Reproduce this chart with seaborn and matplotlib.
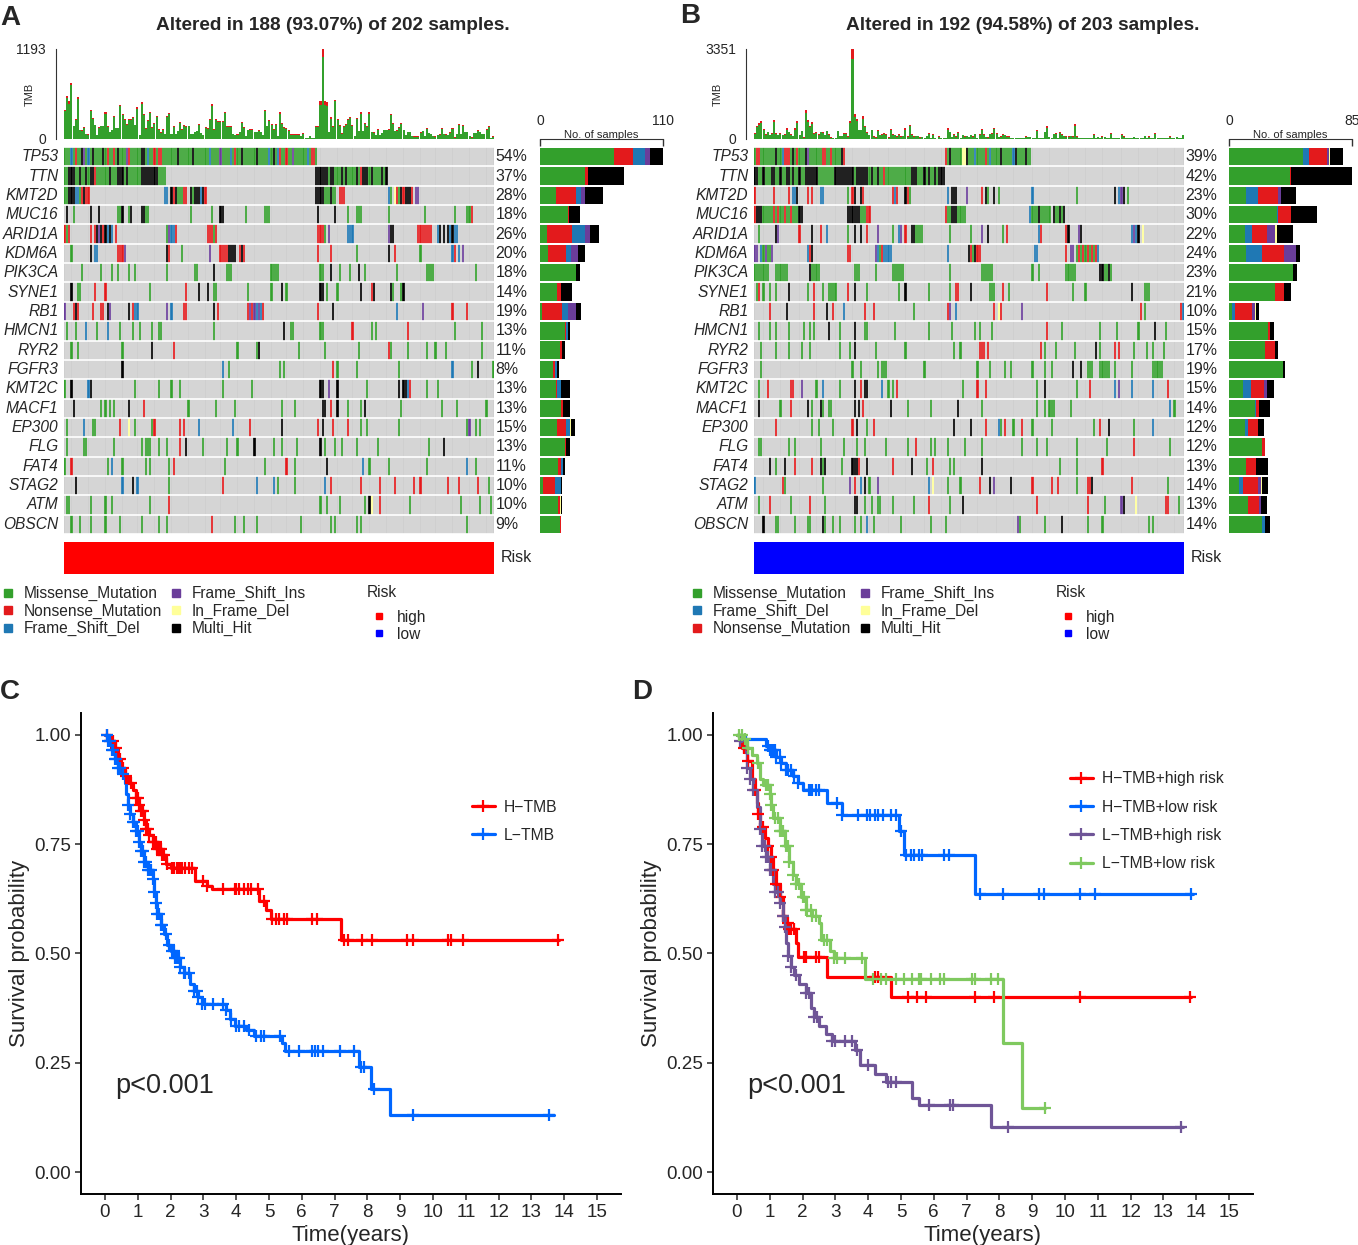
import re

import matplotlib
import matplotlib.pyplot as plt
import numpy as np
import pandas as pd
import seaborn as sns
from matplotlib.colors import ListedColormap
from matplotlib.lines import Line2D

matplotlib.use("Agg")

W, H = 1358, 1245

GENES_A = ["TP53", "TTN", "KMT2D", "MUC16", "ARID1A", "KDM6A", "PIK3CA", "SYNE1", "RB1", "HMCN1",
           "RYR2", "FGFR3", "KMT2C", "MACF1", "EP300", "FLG", "FAT4", "STAG2", "ATM", "OBSCN"]
GENES_B = GENES_A
PCT_A = [54, 37, 28, 18, 26, 20, 18, 14, 19, 13, 11, 8, 13, 13, 15, 13, 11, 10, 10, 9]
PCT_B = [39, 42, 23, 30, 22, 24, 23, 21, 10, 15, 17, 19, 15, 14, 12, 12, 13, 14, 13, 14]

# cell codes: M missense, N nonsense, F frameshift del, P frameshift ins, Y in-frame del, K multi hit
CODES = "MNFPYK"
COLORS = {"M": "#33A02C", "N": "#E31A1C", "F": "#1F78B4", "P": "#6A3D9A", "Y": "#FFFF99", "K": "#000000"}
GREY = "#CFCFCF"

# panel A, samples altered per gene (later entries overwrite earlier ones)
A_TP53 = "M:0-118 F:3,11,39,53,68,78,96,100,114 N:5,20,23,30,42,44,45,80,101,104,116,117 K:8,13,18,25,36,37,53,60,83,90,98 P:9,29,73,107"
A_TTN = "M:0-47,118-151 K:2-4,7,10,12,13,21,25-27,29,36-43,118-123,125,126,130,132,137,140-142,144,149,151 N:14,139"
A_KMT2D = "M:0-2,7,53-55,60,122-124,126,127,153,157 K:2-4,9,50-52,59,61-63,65,118-121,125,158-162 F:5,6,47,48,64,152 N:8,10,11,51,56,57,66,129-131,156,159,163 Y:155 P:165,166"
A_MUC16 = "M:4,25-27,30,36-39,59,69,85,94-96,133,137-139,152,169,183,189,190 K:1,12,16,27,31,36,37,73,74,119,127 N:191"
A_ARID1A = "N:0,2,12,14,18,24,52,67-69,71,119-121,166-172 M:1,48,122,70 K:15,17,19,21,153,154,176,178,180,182 P:16,49,124,152 F:20,22,50,51,133-135,175,181,183,184"
A_KDM6A = "M:3,55,137,167 K:12,48,77-80,83,152 F:14,15,182,185 N:25-27,49,73-76,82,84,119,125,155,183 P:28,68,187"
A_PIK3CA = "M:8,17,22,25,30,33,48,61,62,76-78,97-100,120,121,129,134,141,156,170-173,193 K:70,125,138"
A_SYNE1 = "K:3,63,67,102,120,121,139,145,153,159 M:6,7,40,70,71,86,97,104,123,128,154,158 N:14,19,57,144"
A_RB1 = "P:0,21,48,87,89,168,91 N:4,6,13,17,18,32,56,57,72,86,88,93,119,182,189 K:5,20,30,70,126 F:33,34,50,90,92,156"
A_HMCN1 = "M:1,5,15,26,32,35,41,44,45,70,106,107,120,121,144,146,183,196 F:10,20 K:103 N:135,161"
A_RYR2 = "M:3,6,27,81,90,110,122,138,153,161,170,174,179,196 K:41,91 N:51,152"
A_FGFR3 = "K:27,194 F:74,182 M:77,101,103,128,137,157,191,201 N:126"
A_KMT2C = "M:0,33,44,50,54,74,88,142,170,175 K:3,12,120,121,128,157,159,160 F:11,161 P:124 N:162"
A_MACF1 = "K:4,30,121,122,128,141 M:17,19,21,23,58,71,80,102,108,133,139,158,177,184,198 N:37,125"
A_EP300 = "M:1,13,14,33,41,139,142,157,189,193,195 F:9,63,79 N:26,42,54,56,87,119,126,133 Y:30 K:102,121 P:190"
A_FLG = "M:1,9,10,23,36,38-40,44,48,65,76,81,98,102,109,122,127,130,137,147,171 N:54 K:57,89,120,178"
A_FAT4 = "M:0,20,27,38,40,49,75,94,108,143,152,170,193 N:3,51,104 F:22,140,189 K:123"
A_STAG2 = "K:5,32 F:27,34,90,98,122 M:49,100,108,199 N:74,125,139,148,155,164,167,180,185,194"
A_ATM = "M:1,2,12,19,22,40,120,123,129,141,162,186,195,200 N:49,148 K:143 Y:144"
A_OBSCN = "M:3,7,12,19,26,36,44,48,80,84,90,111,125,127,137,139,189 N:69"

# panel B
B_TP53 = "M:0-42,90-130 N:1,2,14-16,20,32,33,36,42,90,109 K:10,18,24,41,92,100,116,123,128 F:13,104,111,122 P:25 Y:98,99"
B_TTN = "M:0-89 K:0,1,4,8,9,12,15,16,18,21,24-29,38-40,41-46,48,49,50-53,55,58,74-76,80,82,85,87-89 N:61"
B_KMT2D = "N:0,9,16,25,27,46,51,65,67,72,107 F:18,19,31,32,66,91,131,172 K:20,47,50,71,93-95,109,113,170,174 M:44,73,110,115,152,176 P:100,173"
B_MUC16 = "M:4-8,10,12,13,15,16,18-20,50-52,91,92,96-99,131-133,135-139,142,143,145 N:0,9,11,14,17,53,54,90 K:1-3,21,22,44-49,93-95,134,141,144,146 F:130"
B_ARID1A = "M:2,44,65,76-79,92,102,117 K:10,11,27,47,50,74,75,110,148,154,181 P:11,58,69,107,153,179 N:21,31,53,71,119,135,147 F:34,68,134,178,180 Y:183"
B_KDM6A = "P:0,1,5,8,57,149,150 F:3,25,58,61-64,91,132,133,162 M:4,6,7,59,103,152,154,156,158,160 N:26,44,45,60,102,105,106,147,153,155,157,159,161 K:27,101,104"
B_PIK3CA = "M:0-6,10-15,27-30,47-49,57,65-70,92,107-112,131,134,147-151,165,166,168 K:26,163,164,167"
B_SYNE1 = "M:1,4,7,10,25,32,35-38,53,68,82,92,111-113,120,150,156,184-186 N:2,28,44,95,96,117,138 K:16,47,71,102,178"
B_RB1 = "N:7,28,37,52,56,91,113,116,182,201 K:15,34 F:42,95,202 M:75,184 P:92,126 Y:115"
B_HMCN1 = "M:2,7,10,16,23,26,28,40,52,53,66,82,93,104,106,112,145,163,171,181,194 K:35,47,189 N:138"
B_RYR2 = "M:3,10,16,22,26,40,45,57,71,94,97,137,142,151,163,179,185,188,193 K:47,161 N:106-108,110,135,170,172"
B_FGFR3 = "M:3,46,50,58,60-62,80,105,111,118,121,131,137,140,157-159,163-167,170,178,188-192 K:150,154"
B_KMT2C = "M:2,29,40,63,65,98,133,152 N:6,17,18,50,67,105,109,158,195 P:22,172 F:32,60,170,178,188 K:47,52,53,137"
B_MACF1 = "K:2,25,31,47,49,64,96 M:12,27,32,35,36,72,83,107,133,137,139-141,149,198 N:17,51 F:196"
B_EP300 = "N:10,46,56,109,118,126,163 M:27,30,37,53,116,122,131,140,160,179 K:48,94,102,167 F:115,188"
B_FLG = "M:2,3,16,19,31,42,48,52,62,72,83,85,91,99,107,126,133,138,152,166,196 N:76,179"
B_FAT4 = "K:7,14,31,33,46-48,53,74,107 M:10,32,41,81,92,94,144,152 N:19,27,49,65,84,164"
B_STAG2 = "F:0,50,82 N:13,47,106,131,140,143,157,158,178 M:14,32,54,91,97,152,195 P:45,58,113 K:52,111,121,159 Y:84"
B_ATM = "M:2,17,33,52,55,58,59,65,75,92,165,200 N:7,26,82,133,157,194,195 K:47,48,98,174 P:173 Y:180"
B_OBSCN = "K:4,32,145 M:10,11,19,25,26,33,37,40,47,50,56,69,83,90,125,137,157,164,186,188 F:53 P:124"

A_ROWS = [A_TP53, A_TTN, A_KMT2D, A_MUC16, A_ARID1A, A_KDM6A, A_PIK3CA, A_SYNE1, A_RB1, A_HMCN1,
          A_RYR2, A_FGFR3, A_KMT2C, A_MACF1, A_EP300, A_FLG, A_FAT4, A_STAG2, A_ATM, A_OBSCN]
B_ROWS = [B_TP53, B_TTN, B_KMT2D, B_MUC16, B_ARID1A, B_KDM6A, B_PIK3CA, B_SYNE1, B_RB1, B_HMCN1,
          B_RYR2, B_FGFR3, B_KMT2C, B_MACF1, B_EP300, B_FLG, B_FAT4, B_STAG2, B_ATM, B_OBSCN]

# TMB per sample, whole bar and the red tip on top of it
A_TMB = [389, 575, 499, 743, 177, 270, 553, 124, 115, 159,
         71, 62, 389, 278, 190, 57, 159, 177, 177, 354,
         168, 97, 124, 309, 150, 150, 455, 332, 265, 199,
         265, 265, 296, 190, 420, 53, 486, 332, 141, 256,
         362, 155, 212, 301, 133, 88, 133, 66, 309, 345,
         66, 168, 66, 110, 221, 133, 186, 168, 177, 66,
         66, 97, 110, 203, 80, 53, 159, 146, 265, 464,
         133, 265, 243, 243, 243, 362, 168, 168, 168, 71,
         53, 62, 97, 221, 155, 44, 124, 133, 133, 97,
         97, 119, 97, 53, 389, 177, 248, 203, 133,
         199, 44, 354, 212, 155, 141, 119, 62, 62, 62,
         66, 62, 44, 80, 18, 13, 40, 13, 13, 177,
         177, 499, 1193, 499, 486, 97, 287, 168, 522, 265,
         186, 80, 177, 199, 265, 296, 186, 44, 278, 110,
         354, 110, 212, 177, 354, 97, 88, 53, 133, 53,
         80, 124, 124, 133, 336, 212, 110, 119, 155, 212,
         124, 53, 97, 97, 44, 35, 35, 35, 88, 110,
         44, 141, 80, 66, 44, 35, 53, 62, 141, 66,
         62, 53, 88, 141, 22, 66, 203, 66, 190, 97,
         97, 44, 22, 80, 80, 115, 97, 66, 66, 133,
         168, 9, 35]
A_TIP = [22, 28, 30, 32, 8, 12, 28, 8, 8, 10,
         6, 6, 22, 14, 10, 4, 10, 10, 10, 20,
         10, 6, 8, 16, 10, 10, 24, 16, 14, 10,
         14, 14, 16, 10, 22, 4, 24, 16, 8, 14,
         18, 10, 12, 16, 8, 6, 8, 5, 18, 18,
         5, 10, 5, 8, 12, 8, 10, 10, 10, 5,
         5, 6, 8, 12, 6, 4, 10, 8, 14, 24,
         8, 14, 14, 14, 14, 18, 10, 10, 10, 6,
         4, 5, 6, 12, 10, 4, 8, 8, 8, 6,
         6, 8, 6, 4, 20, 10, 14, 12, 8,
         18, 8, 25, 14, 12, 12, 10, 8, 8, 8,
         8, 8, 6, 8, 4, 3, 6, 3, 3, 14,
         14, 50, 110, 50, 45, 8, 20, 12, 22, 16,
         12, 8, 12, 14, 16, 20, 12, 6, 18, 8,
         20, 8, 14, 12, 22, 8, 8, 6, 8, 6,
         6, 8, 8, 8, 20, 14, 8, 8, 10, 14,
         8, 6, 6, 6, 6, 4, 4, 4, 6, 8,
         6, 8, 6, 6, 4, 4, 4, 6, 8, 6,
         6, 4, 6, 8, 4, 6, 14, 6, 12, 6,
         6, 4, 4, 6, 6, 8, 6, 4, 4, 8,
         12, 2, 6]
B_TMB = [211, 496, 583, 657, 372, 186, 273, 161, 223, 707,
         223, 149, 223, 149, 186, 397, 273, 186, 124, 397,
         682, 149, 310, 62, 1091, 719, 496, 620, 223, 248,
         186, 273, 248, 149, 310, 186, 62, 37, 37, 310,
         124, 124, 223, 223, 99, 682, 3351, 930, 744, 347,
         347, 868, 496, 248, 149, 347, 99, 62, 322, 149,
         186, 223, 186, 62, 372, 186, 149, 99, 174, 99,
         124, 397, 99, 521, 174, 99, 124, 124, 62, 74,
         50, 124, 223, 50, 174, 25, 12, 99, 25, 25,
         50, 397, 273, 74, 174, 99, 248, 50, 149, 99,
         124, 74, 149, 99, 198, 50, 174, 372, 174, 74,
         62, 198, 223, 422, 223, 74, 99, 174, 149, 99,
         99, 50, 50, 25, 25, 37, 25, 50, 99, 74,
         74, 50, 50, 347, 50, 37, 37, 273, 471, 74,
         50, 198, 223, 37, 248, 174, 124, 99, 99, 124,
         99, 546, 99, 50, 25, 37, 50, 37, 37, 25,
         174, 50, 74, 50, 99, 74, 50, 50, 223, 50,
         50, 50, 50, 174, 99, 50, 50, 50, 37, 74,
         50, 50, 50, 50, 124, 50, 99, 50, 50, 223,
         37, 37, 25, 50, 50, 25, 99, 50, 50, 74,
         50, 50, 149]
B_TIP = [25, 60, 70, 70, 30, 20, 25, 15, 20, 85,
         25, 15, 20, 15, 20, 45, 25, 20, 15, 45,
         70, 15, 30, 8, 110, 70, 55, 70, 25, 25,
         20, 25, 25, 15, 30, 20, 8, 5, 5, 30,
         15, 15, 25, 25, 12, 70, 372, 110, 85, 30,
         30, 110, 45, 25, 15, 30, 12, 8, 30, 15,
         20, 25, 20, 8, 40, 20, 15, 12, 20, 12,
         15, 45, 12, 50, 20, 12, 15, 15, 8, 8,
         6, 15, 25, 6, 20, 3, 2, 12, 3, 3,
         6, 45, 30, 10, 20, 12, 30, 6, 15, 12,
         12, 8, 15, 10, 20, 6, 20, 40, 20, 8,
         8, 20, 25, 45, 25, 10, 12, 20, 15, 10,
         10, 6, 6, 3, 3, 5, 3, 6, 10, 8,
         8, 6, 6, 40, 6, 5, 5, 30, 55, 8,
         6, 20, 25, 5, 30, 20, 15, 12, 12, 15,
         10, 60, 10, 6, 3, 5, 6, 5, 5, 3,
         20, 6, 8, 6, 10, 8, 6, 6, 25, 6,
         6, 6, 6, 20, 10, 6, 6, 6, 5, 8,
         6, 6, 6, 6, 12, 6, 10, 6, 6, 25,
         5, 5, 3, 6, 6, 3, 10, 6, 6, 8,
         6, 6, 18]

# samples per gene and mutation type, for the side bars
A_SIDE_ORDER = "MNFPYK"
A_M = [66, 40, 14, 25, 6, 7, 32, 15, 2, 22, 18, 12, 14, 19, 15, 22, 16, 3, 16, 18]
A_N = [17, 3, 18, 1, 23, 16, 0, 4, 18, 1, 2, 1, 1, 2, 8, 1, 3, 10, 2, 1]
A_F = [11, 0, 5, 0, 11, 5, 0, 0, 5, 2, 0, 2, 4, 0, 4, 0, 2, 6, 0, 0]
A_P = [4, 0, 3, 0, 5, 6, 0, 0, 7, 0, 0, 0, 0, 0, 0, 0, 0, 0, 0, 0]
A_Y = [0, 0, 0, 0, 0, 0, 0, 0, 0, 0, 0, 0, 0, 0, 1, 0, 0, 0, 1, 0]
A_K = [12, 32, 16, 10, 8, 6, 4, 10, 5, 2, 2, 2, 8, 6, 3, 4, 1, 1, 1, 0]
B_SIDE_ORDER = "MFNPYK"
B_M = [51, 42, 12, 33, 11, 12, 44, 32, 2, 27, 25, 37, 10, 18, 11, 23, 12, 7, 13, 23]
B_F = [4, 0, 8, 1, 5, 11, 0, 0, 2, 0, 0, 0, 5, 1, 2, 0, 0, 3, 0, 2]
B_N = [13, 1, 14, 9, 10, 15, 0, 6, 12, 1, 7, 0, 9, 2, 7, 2, 7, 10, 8, 0]
B_P = [1, 0, 2, 0, 6, 8, 0, 0, 2, 0, 0, 0, 2, 0, 0, 0, 0, 2, 1, 0]
B_Y = [1, 0, 0, 0, 1, 0, 0, 0, 1, 0, 0, 0, 0, 0, 0, 0, 0, 1, 0, 0]
B_K = [9, 42, 10, 18, 11, 3, 3, 5, 2, 3, 2, 2, 5, 7, 4, 0, 8, 4, 4, 3]

# survival curves, step times and survival, plus censoring times
C_H_T = [0, 0.15, 0.3, 0.4, 0.5, 0.6, 0.7, 0.85, 0.95, 1.05, 1.1, 1.2, 1.25, 1.35, 1.45, 1.6, 1.75, 1.85, 2.0, 2.75, 3.1, 3.25, 4.7, 4.9, 5.05, 7.2, 13.85]
C_H_S = [1, 0.985, 0.97, 0.945, 0.925, 0.905, 0.89, 0.875, 0.855, 0.84, 0.825, 0.805, 0.785, 0.77, 0.755, 0.74, 0.725, 0.705, 0.695, 0.665, 0.655, 0.648, 0.62, 0.60, 0.578, 0.53, 0.53]
C_H_C = [0.05, 0.15, 0.25, 0.35, 0.45, 0.55, 0.65, 0.8, 0.95, 1.0, 1.05, 1.1, 1.15, 1.2, 1.25, 1.3, 1.35, 1.45, 1.5, 1.55, 1.6, 1.65, 1.7, 1.75, 1.8, 1.9, 2.05, 2.1, 2.2, 2.25, 2.3, 2.35, 2.45, 2.55, 2.65, 3.0, 3.1, 3.6, 3.95, 4.0, 4.1, 4.25, 4.35, 4.45, 4.65, 4.85, 5.1, 5.2, 5.3, 5.45, 5.55, 6.3, 6.45, 7.3, 7.4, 7.85, 8.15, 9.2, 9.4, 10.45, 10.55, 10.9, 13.8]
C_L_T = [0, 0.1, 0.2, 0.3, 0.4, 0.5, 0.6, 0.65, 0.7, 0.75, 0.85, 0.95, 1.05, 1.1, 1.2, 1.3, 1.45, 1.5, 1.55, 1.6, 1.7, 1.8, 1.9, 2.0, 2.15, 2.3, 2.4, 2.6, 2.7, 2.85, 2.95, 3.7, 3.8, 3.95, 4.3, 4.55, 5.4, 5.5, 7.75, 8.1, 8.7, 13.7]
C_L_S = [1, 0.985, 0.965, 0.945, 0.925, 0.91, 0.89, 0.865, 0.84, 0.82, 0.80, 0.78, 0.755, 0.735, 0.71, 0.69, 0.67, 0.64, 0.615, 0.59, 0.565, 0.545, 0.52, 0.505, 0.49, 0.47, 0.455, 0.43, 0.415, 0.40, 0.385, 0.37, 0.35, 0.335, 0.325, 0.312, 0.295, 0.278, 0.24, 0.19, 0.13, 0.13]
C_L_C = [0.05, 0.1, 0.15, 0.2, 0.25, 0.3, 0.35, 0.4, 0.45, 0.55, 0.7, 0.75, 0.85, 0.9, 0.95, 1.0, 1.05, 1.1, 1.15, 1.2, 1.25, 1.3, 1.35, 1.4, 1.45, 1.5, 1.55, 1.6, 1.65, 1.7, 1.75, 1.85, 1.95, 2.05, 2.1, 2.15, 2.2, 2.25, 2.3, 2.4, 2.45, 2.55, 2.7, 2.8, 2.85, 2.95, 3.05, 3.3, 3.6, 3.7, 3.85, 4.0, 4.1, 4.25, 4.4, 4.6, 4.75, 4.85, 5.35, 5.6, 5.9, 6.3, 6.4, 6.5, 6.65, 7.15, 7.6, 7.8, 7.9, 8.2, 9.4, 13.55]

D_HH_T = [0, 0.15, 0.3, 0.45, 0.55, 0.6, 0.65, 0.7, 0.85, 0.95, 1.05, 1.1, 1.2, 1.3, 1.4, 1.5, 1.6, 1.8, 1.87, 2.75, 4.7, 13.85]
D_HH_S = [1, 0.97, 0.94, 0.9, 0.875, 0.845, 0.82, 0.79, 0.765, 0.745, 0.72, 0.69, 0.66, 0.63, 0.585, 0.57, 0.555, 0.525, 0.493, 0.447, 0.40, 0.40]
D_HH_C = [0.2, 0.35, 0.55, 0.65, 0.8, 0.95, 1.05, 1.1, 1.2, 1.3, 1.4, 1.55, 1.6, 1.65, 1.75, 2.05, 2.1, 2.4, 2.5, 4.2, 4.3, 5.2, 5.5, 5.75, 7.25, 7.85, 10.45, 13.8]
D_HL_T = [0, 0.25, 0.9, 1.0, 1.2, 1.35, 1.5, 1.7, 1.85, 2.0, 2.75, 3.2, 4.95, 5.1, 7.25, 13.9]
D_HL_S = [1, 0.99, 0.975, 0.965, 0.95, 0.935, 0.92, 0.905, 0.89, 0.875, 0.845, 0.817, 0.78, 0.725, 0.635, 0.635]
D_HL_C = [0.95, 1.0, 1.05, 1.1, 1.15, 1.2, 1.3, 1.35, 1.5, 1.55, 1.65, 1.75, 1.85, 2.2, 2.25, 2.3, 2.4, 2.5, 3.05, 3.2, 3.7, 3.95, 4.05, 4.2, 4.3, 4.45, 4.7, 4.85, 5.0, 5.15, 5.3, 5.4, 5.55, 5.65, 6.3, 6.45, 7.4, 8.1, 9.2, 9.35, 10.45, 10.9, 13.85]
D_LH_T = [0, 0.1, 0.2, 0.3, 0.4, 0.5, 0.6, 0.7, 0.75, 0.9, 1.0, 1.1, 1.15, 1.3, 1.4, 1.45, 1.5, 1.55, 1.65, 1.75, 1.9, 2.1, 2.25, 2.35, 2.5, 2.7, 2.9, 3.6, 3.75, 4.2, 4.55, 5.35, 5.55, 7.75, 13.6]
D_LH_S = [1, 0.985, 0.96, 0.925, 0.9, 0.875, 0.835, 0.785, 0.745, 0.72, 0.69, 0.66, 0.64, 0.615, 0.585, 0.56, 0.525, 0.495, 0.47, 0.45, 0.43, 0.41, 0.375, 0.355, 0.335, 0.315, 0.30, 0.28, 0.245, 0.225, 0.205, 0.17, 0.153, 0.103, 0.103]
D_LH_C = [0.1, 0.3, 0.4, 0.5, 0.7, 0.75, 0.85, 0.9, 0.95, 1.0, 1.05, 1.15, 1.25, 1.3, 1.4, 1.45, 1.55, 1.65, 1.8, 2.1, 2.2, 2.35, 2.45, 2.9, 3.0, 3.3, 3.5, 3.65, 4.0, 4.6, 4.7, 4.85, 5.85, 6.5, 6.6, 8.25, 13.55]
D_LL_T = [0, 0.2, 0.3, 0.45, 0.6, 0.7, 0.8, 1.0, 1.05, 1.1, 1.3, 1.45, 1.6, 1.7, 1.8, 1.95, 2.1, 2.3, 2.5, 2.55, 2.85, 2.95, 3.9, 8.1, 8.7, 9.4]
D_LL_S = [1, 0.99, 0.97, 0.955, 0.935, 0.90, 0.885, 0.865, 0.84, 0.81, 0.78, 0.745, 0.71, 0.68, 0.66, 0.63, 0.60, 0.585, 0.57, 0.53, 0.505, 0.49, 0.442, 0.295, 0.147, 0.147]
D_LL_C = [0.05, 0.15, 0.25, 0.35, 0.65, 0.9, 0.95, 1.0, 1.05, 1.15, 1.25, 1.3, 1.35, 1.4, 1.5, 1.55, 1.6, 1.7, 1.8, 1.9, 2.0, 2.05, 2.1, 2.15, 2.25, 2.3, 2.4, 2.65, 2.75, 2.95, 3.05, 3.3, 3.8, 4.15, 4.4, 4.55, 4.85, 5.1, 5.35, 5.55, 5.6, 5.9, 6.2, 6.3, 7.15, 7.25, 7.75, 7.95, 9.4]

YEARS = list(range(16))
SURV_TICKS = [0, 0.25, 0.5, 0.75, 1]

RED, BLUE, PURPLE, GREEN = "#FF0000", "#0066FF", "#6F5597", "#7FC95F"


def px_axes(fig, left, top, right, bottom):
    return fig.add_axes([left / W, 1 - bottom / H, (right - left) / W, (bottom - top) / H])


def parse_row(text, n):
    row = np.zeros(n, dtype=int)
    for code, items in re.findall(r"([A-Z]):(\S+)", text):
        for item in items.split(","):
            start, _, end = item.partition("-")
            row[int(start):int(end or start) + 1] = CODES.index(code) + 1
    return row


def draw_oncoplot(fig, dx, rows, genes, pct, tmb, tip, side, side_max, tmb_max, title, risk_color):
    n = len(tmb)
    left, right = 64 + dx, 494 + dx
    bar_left = 540 + dx - (1 if dx else 0)

    # TMB bars on top
    ax = px_axes(fig, left, 49, right, 139)
    xs = np.arange(n) + 0.5
    tmb = np.array(tmb)
    tip = np.array(tip)
    ax.bar(xs, tmb - tip, width=0.95, color=COLORS["M"], linewidth=0)
    ax.bar(xs, tip, bottom=tmb - tip, width=0.95, color=COLORS["N"], linewidth=0)
    ax.set_xlim(0, n)
    ax.set_ylim(0, tmb_max)
    ax.set_xticks([])
    ax.set_yticks([0, tmb_max], [0, tmb_max], fontsize=9, color="#222222")
    ax.tick_params(axis="y", length=4, width=1, pad=3, color="#333333")
    sns.despine(ax=ax, bottom=True)
    ax.spines["left"].set_position(("outward", 6))
    ax.spines["left"].set_color("#333333")
    ax.set_ylabel("TMB", fontsize=8, labelpad=-13)
    ax.patch.set_alpha(0)

    # mutation matrix
    ax = px_axes(fig, left, 147, right, 534)
    matrix = np.vstack([parse_row(r, n) for r in rows])
    cmap = ListedColormap([GREY] + [COLORS[c] for c in CODES])
    sns.heatmap(matrix, ax=ax, cmap=cmap, vmin=0, vmax=6, cbar=False, xticklabels=False, yticklabels=False)
    ax.vlines(np.arange(1, n), 0, len(rows), color="white", lw=0.35, alpha=0.55)
    ax.hlines(np.arange(0, len(rows) + 1), 0, n, color="white", lw=1.2)
    for i, gene in enumerate(genes):
        ax.annotate(gene, (0, i + 0.5), xycoords=("axes fraction", "data"), xytext=(-4, 0),
                    textcoords="offset points", ha="right", va="center", style="italic", fontsize=11.2)
        ax.annotate(f"{pct[i]}%", (1, i + 0.5), xycoords=("axes fraction", "data"), xytext=(1, 0),
                    textcoords="offset points", ha="left", va="center", fontsize=11.4)

    # side bars
    ax = px_axes(fig, bar_left, 147, bar_left + 123, 534)
    order, counts = side
    base = np.zeros(len(genes))
    ypos = np.arange(len(genes)) + 0.5
    for code, vals in zip(order, counts):
        ax.barh(ypos, vals, left=base, height=0.9, color=COLORS[code], linewidth=0)
        base += np.array(vals)
    ax.set_ylim(len(genes), 0)
    ax.set_xlim(0, side_max)
    ax.xaxis.tick_top()
    ax.set_xticks([0, side_max], [0, side_max], fontsize=9, color="#222222")
    ax.tick_params(axis="x", length=5, width=1, pad=8, direction="in", color="#333333")
    ax.set_yticks([])
    sns.despine(ax=ax, left=True, bottom=True, right=True, top=False)
    ax.spines["top"].set_position(("outward", 6))
    ax.spines["top"].set_color("#333333")
    ax.text(0.5, 1.018, "No. of samples", transform=ax.transAxes, ha="center", va="bottom", fontsize=8)
    ax.patch.set_alpha(0)

    # risk strip
    ax = px_axes(fig, left, 542, right, 574)
    sns.heatmap(np.zeros((1, n)), ax=ax, cmap=ListedColormap([risk_color]), cbar=False, xticklabels=False, yticklabels=False)
    ax.annotate("Risk", (1, 0.5), xycoords="axes fraction", xytext=(5, 0), textcoords="offset points",
                ha="left", va="center", fontsize=11.5)

    fig.text((left + 269) / W, 1 - 25 / H, title, ha="center", va="center", fontsize=13.7, fontweight="bold")


def square(code):
    return Line2D([], [], ls="", marker="s", ms=5.5, color=COLORS[code])


def draw_legends(fig, dx, order):
    names = {"M": "Missense_Mutation", "N": "Nonsense_Mutation", "F": "Frame_Shift_Del",
             "P": "Frame_Shift_Ins", "Y": "In_Frame_Del", "K": "Multi_Hit"}
    handles = [square(c) for c in order]
    labels = [names[c] for c in order]
    fig.legend(handles, labels, ncol=2, loc="upper left", bbox_to_anchor=((-17 + dx) / W, 1 - 572 / H),
               frameon=False, fontsize=11.2, labelspacing=0.16, handletextpad=0.3, columnspacing=0.23,
               borderpad=0.4, handlelength=1.4)
    risk = [Line2D([], [], ls="", marker="s", ms=5, color=c) for c in (RED, "#0000FF")]
    leg = fig.legend(risk, ["high", "low"], loc="upper left", bbox_to_anchor=((353 + dx) / W, 1 - 571 / H),
                     frameon=False, fontsize=11.2, title="Risk", title_fontsize=11.2, alignment="left",
                     labelspacing=0.14, handletextpad=0.3, borderpad=0.4, handlelength=1.6)
    leg._legend_box.sep = 7


def draw_km(ax, curves, legend_anchor):
    frames = []
    for name, t, s, c, color in curves:
        frames.append(pd.DataFrame({"time": t, "surv": s, "group": name}))
    table = pd.concat(frames)
    palette = {name: color for name, _, _, _, color in curves}
    sns.lineplot(data=table, x="time", y="surv", hue="group", palette=palette, drawstyle="steps-post",
                 estimator=None, sort=False, lw=2.3, legend=False, ax=ax)
    handles = []
    for name, t, s, c, color in curves:
        idx = np.searchsorted(t, c, side="right") - 1
        sns.scatterplot(x=c, y=np.array(s)[idx], marker="+", color=color, s=70, linewidth=1.6,
                        legend=False, ax=ax, zorder=3)
        handles.append(Line2D([], [], color=color, lw=2.3, marker="+", ms=8, mew=1.6))
    ax.legend(handles, [c[0] for c in curves], loc="center left", bbox_to_anchor=legend_anchor, frameon=False,
              fontsize=11.3, labelspacing=0.85, handlelength=1.46, handletextpad=0.57, borderpad=0, borderaxespad=0)
    ax.set_xlim(-0.73, 15.73)
    ax.set_ylim(-0.05, 1.05)
    ax.set_xticks(YEARS)
    ax.set_yticks(SURV_TICKS, [f"{v:.2f}" for v in SURV_TICKS])
    ax.tick_params(labelsize=13.6, length=4, width=1.1, pad=3, bottom=True, left=True)
    ax.set_xlabel("Time(years)", fontsize=16, labelpad=3)
    ax.set_ylabel("Survival probability", fontsize=16, labelpad=3)
    sns.despine(ax=ax)
    for side in ("left", "bottom"):
        ax.spines[side].set_linewidth(1.4)
        ax.spines[side].set_color("black")
    ax.text(0.3, 0.197, "p<0.001", fontsize=19.5, ha="left", va="center")


def main():
    sns.set_style("white")
    plt.rcParams["font.family"] = ["Liberation Sans", "DejaVu Sans"]
    plt.rcParams["axes.unicode_minus"] = True

    fig = plt.figure(figsize=(W / 100, H / 100), dpi=100)

    draw_oncoplot(fig, 0, A_ROWS, GENES_A, PCT_A, A_TMB, A_TIP, (A_SIDE_ORDER, [A_M, A_N, A_F, A_P, A_Y, A_K]),
                  110, 1193, "Altered in 188 (93.07%) of 202 samples.", RED)
    draw_oncoplot(fig, 690, B_ROWS, GENES_B, PCT_B, B_TMB, B_TIP, (B_SIDE_ORDER, [B_M, B_F, B_N, B_P, B_Y, B_K]),
                  85, 3351, "Altered in 192 (94.58%) of 203 samples.", "#0000FF")
    draw_legends(fig, 0, "MNFPYK")
    draw_legends(fig, 689, "MFNPYK")

    ax_c = px_axes(fig, 81, 713, 621, 1194)
    draw_km(ax_c, [("H\u2212TMB", C_H_T, C_H_S, C_H_C, RED), ("L\u2212TMB", C_L_T, C_L_S, C_L_C, BLUE)], (0.724, 0.775))
    ax_d = px_axes(fig, 713, 713, 1253, 1194)
    draw_km(ax_d, [("H\u2212TMB+high risk", D_HH_T, D_HH_S, D_HH_C, RED),
                   ("H\u2212TMB+low risk", D_HL_T, D_HL_S, D_HL_C, BLUE),
                   ("L\u2212TMB+high risk", D_LH_T, D_LH_S, D_LH_C, PURPLE),
                   ("L\u2212TMB+low risk", D_LL_T, D_LL_S, D_LL_C, GREEN)], (0.661, 0.775))

    for letter, x, y in [("A", 0, 18), ("B", 680, 16), ("C", 0, 692), ("D", 632, 692)]:
        fig.text(x / W, 1 - y / H, letter, fontsize=20, fontweight="bold", ha="left", va="center")

    fig.savefig("out.png", dpi=100)


if __name__ == "__main__":
    main()
